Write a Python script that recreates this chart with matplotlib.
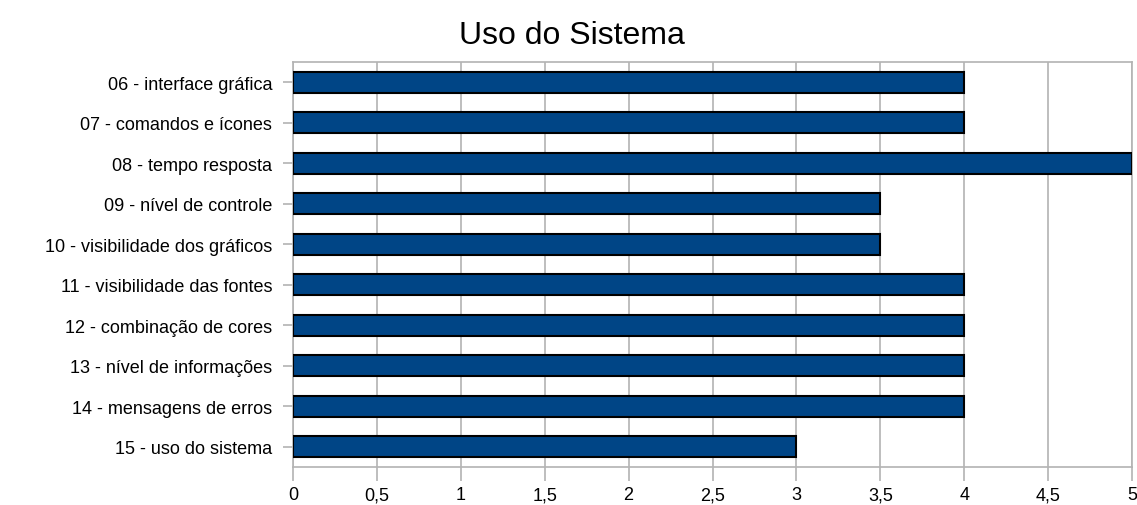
import matplotlib.pyplot as plt
import numpy as np

plt.rcParams['font.family'] = ['Liberation Sans', 'DejaVu Sans']

# answers per question
categories = [
    '06 - interface gráfica',
    '07 - comandos e ícones',
    '08 - tempo resposta',
    '09 - nível de controle',
    '10 - visibilidade dos gráficos',
    '11 - visibilidade das fontes',
    '12 - combinação de cores',
    '13 - nível de informações',
    '14 - mensagens de erros',
    '15 - uso do sistema',
]
values = [4, 4, 5, 3.5, 3.5, 4, 4, 4, 4, 3]
xticks = [0, 0.5, 1, 1.5, 2, 2.5, 3, 3.5, 4, 4.5, 5]
xlabels = [str(t).replace('.', ',') for t in xticks]

fig = plt.figure(figsize=(11.37, 5.06), dpi=100)
ax = fig.add_axes([0.2577, 0.0751, 0.9956 - 0.2577, 0.8755 - 0.0751])

grid_col = '#b3b3b3'
y = np.arange(len(categories))
ax.barh(y, values, height=0.53, color='#004586', edgecolor='black', linewidth=1.5, zorder=3)

ax.set_xlim(0, 5)
ax.set_ylim(len(categories) - 0.5, -0.5)
ax.set_xticks(xticks)
ax.set_xticklabels(xlabels, fontsize=13)
ax.set_yticks(y)
ax.set_yticklabels(categories, fontsize=13)
ax.xaxis.grid(True, color=grid_col, linewidth=1.2, zorder=0)
ax.tick_params(axis='x', length=10, color=grid_col, width=1.2, pad=4)
ax.tick_params(axis='y', length=7, color=grid_col, width=1.2, pad=8)
for s in ax.spines.values():
    s.set_color(grid_col)
    s.set_linewidth(1.2)

fig.suptitle('Uso do Sistema', fontsize=23, y=0.958, x=0.503, va='top')

fig.savefig('out.png', dpi=100)
